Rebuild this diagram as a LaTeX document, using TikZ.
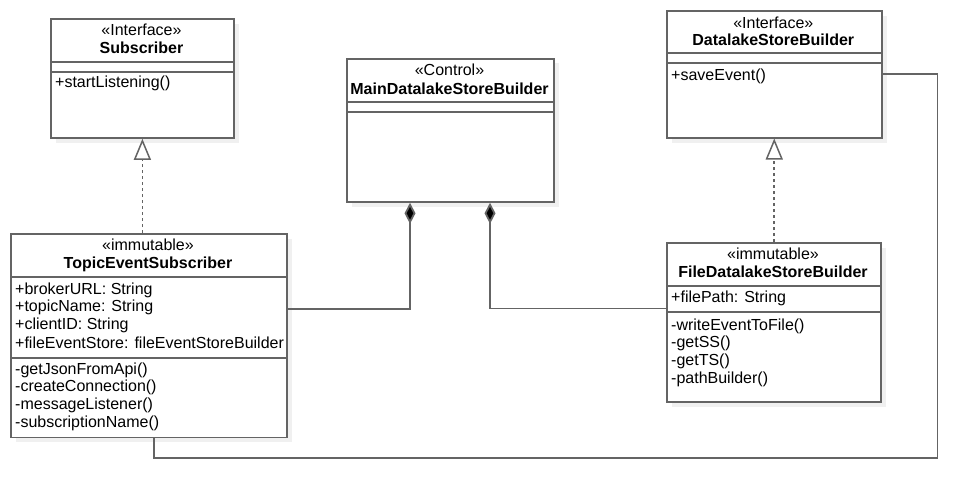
\documentclass[tikz,border=0pt]{standalone}
\usepackage{fontspec}
\setmainfont{Liberation Sans}
\usetikzlibrary{arrows.meta,calc}
\definecolor{edge}{RGB}{100,100,100}
\definecolor{shadowgray}{RGB}{240,240,240}
\begin{document}
\begin{tikzpicture}[x=1pt,y=-1pt,
  classbox/.style={draw=edge,line width=1.8pt,fill=white,rectangle,inner sep=0pt,anchor=north west},
  sep/.style={draw=edge,line width=1.8pt},
  txt/.style={inner sep=0pt,font=\fontsize{16}{17.7}\selectfont},
  ltxt/.style={txt,anchor=west,align=left},
  ctxt/.style={txt,anchor=center},
  conn/.style={draw=edge,line width=1.8pt},
  real/.style={conn,dash pattern=on 3pt off 3pt,-{Triangle[open,length=21pt,width=17pt,line width=1.5pt,fill=white]}},
  comp/.style={conn,-{Diamond[length=21pt,width=11pt,fill=black]}}]
\useasboundingbox (0,0) rectangle (979,499);
\fill[white] (0,0) rectangle (979,499);
% shadows
\fill[shadowgray] (56,24) rectangle (239,143);
\fill[shadowgray] (16,239) rectangle (292,442);
\fill[shadowgray] (352,63) rectangle (559,207);
\fill[shadowgray] (672,16) rectangle (887,143);
\fill[shadowgray] (672,248) rectangle (886,407);

% Subscriber
\node[classbox,minimum width=183pt,minimum height=119pt] (sub) at (50,18) {};
\draw[sep] (50,62) -- (233,62);
\draw[sep] (50,72) -- (233,72);
\node[ctxt] (subst) at (141.5,30) {«Interface»};
\node[ctxt] (subname) at (141.5,48) {\bfseries Subscriber};
\node[ltxt] (subm) at (55,83) {+startListening()};

% TopicEventSubscriber
\node[classbox,minimum width=276pt,minimum height=203.5pt] (tes) at (10,233) {};
\draw[sep] (10,277) -- (286,277);
\draw[sep] (10,357.7) -- (286,357.7);
\node[ctxt] (tesst) at (148,245) {«immutable»};
\node[ctxt] (tesname) at (148,264) {\bfseries TopicEventSubscriber};
\node[ltxt] (tesa1) at (15,290) {+brokerURL: String};
\node[ltxt] (tesa2) at (15,307.7) {+topicName: String};
\node[ltxt] (tesa3) at (15,325.4) {+clientID: String};
\node[ltxt] (tesa4) at (15,343.1) {+fileEventStore: fileEventStoreBuilder};
\node[ltxt] (tesm1) at (15,370) {-getJsonFromApi()};
\node[ltxt] (tesm2) at (15,387.7) {-createConnection()};
\node[ltxt] (tesm3) at (15,405.4) {-messageListener()};
\node[ltxt] (tesm4) at (15,423.1) {-subscriptionName()};

% MainDatalakeStoreBuilder
\node[classbox,minimum width=207pt,minimum height=143.3pt] (main) at (346,57.7) {};
\draw[sep] (346,102) -- (553,102);
\draw[sep] (346,111.7) -- (553,111.7);
\node[ctxt] (mainst) at (449.5,70) {«Control»};
\node[ctxt] (mainname) at (449.5,88.3) {\bfseries MainDatalakeStoreBuilder};

% DatalakeStoreBuilder
\node[classbox,minimum width=214.7pt,minimum height=126.7pt] (dsb) at (666,10) {};
\draw[sep] (666,53.3) -- (880.7,53.3);
\draw[sep] (666,63.3) -- (880.7,63.3);
\node[ctxt] (dsbst) at (773.3,22.3) {«Interface»};
\node[ctxt] (dsbname) at (773.3,40) {\bfseries DatalakeStoreBuilder};
\node[ltxt] (dsbm) at (671,76) {+saveEvent()};

% FileDatalakeStoreBuilder
\node[classbox,minimum width=214pt,minimum height=159pt] (fdsb) at (666,242) {};
\draw[sep] (666,286) -- (880,286);
\draw[sep] (666,311.7) -- (880,311.7);
\node[ctxt] (fdsbst) at (773,254) {«immutable»};
\node[ctxt] (fdsbname) at (773,271.7) {\bfseries FileDatalakeStoreBuilder};
\node[ltxt] (fdsba1) at (671,298) {+filePath: String};
\node[ltxt] (fdsbm1) at (671,326) {-writeEventToFile()};
\node[ltxt] (fdsbm2) at (671,343.7) {-getSS()};
\node[ltxt] (fdsbm3) at (671,361.4) {-getTS()};
\node[ltxt] (fdsbm4) at (671,379.1) {-pathBuilder()};

% connector bends
\coordinate (c1) at (410,309);
\coordinate (c2) at (490,308.5);
\coordinate (a1) at (154,457.7);
\coordinate (a2) at (937.5,457.7);
\coordinate (a3) at (937.5,74);

% realizations
\draw[real] (sub.south |- tes.north) -- (sub.south);
\draw[real] (dsb.south |- fdsb.north) -- (dsb.south);

% compositions
\draw[comp] (tes.east |- c1) -- (c1) -- (c1 |- main.south);
\draw[comp] (fdsb.west |- c2) -- (c2) -- (c2 |- main.south);

% association
\draw[conn] (a1 |- tes.south) -- (a1) -- (a2) -- (a3) -- (dsb.east |- a3);
\end{tikzpicture}
\end{document}
